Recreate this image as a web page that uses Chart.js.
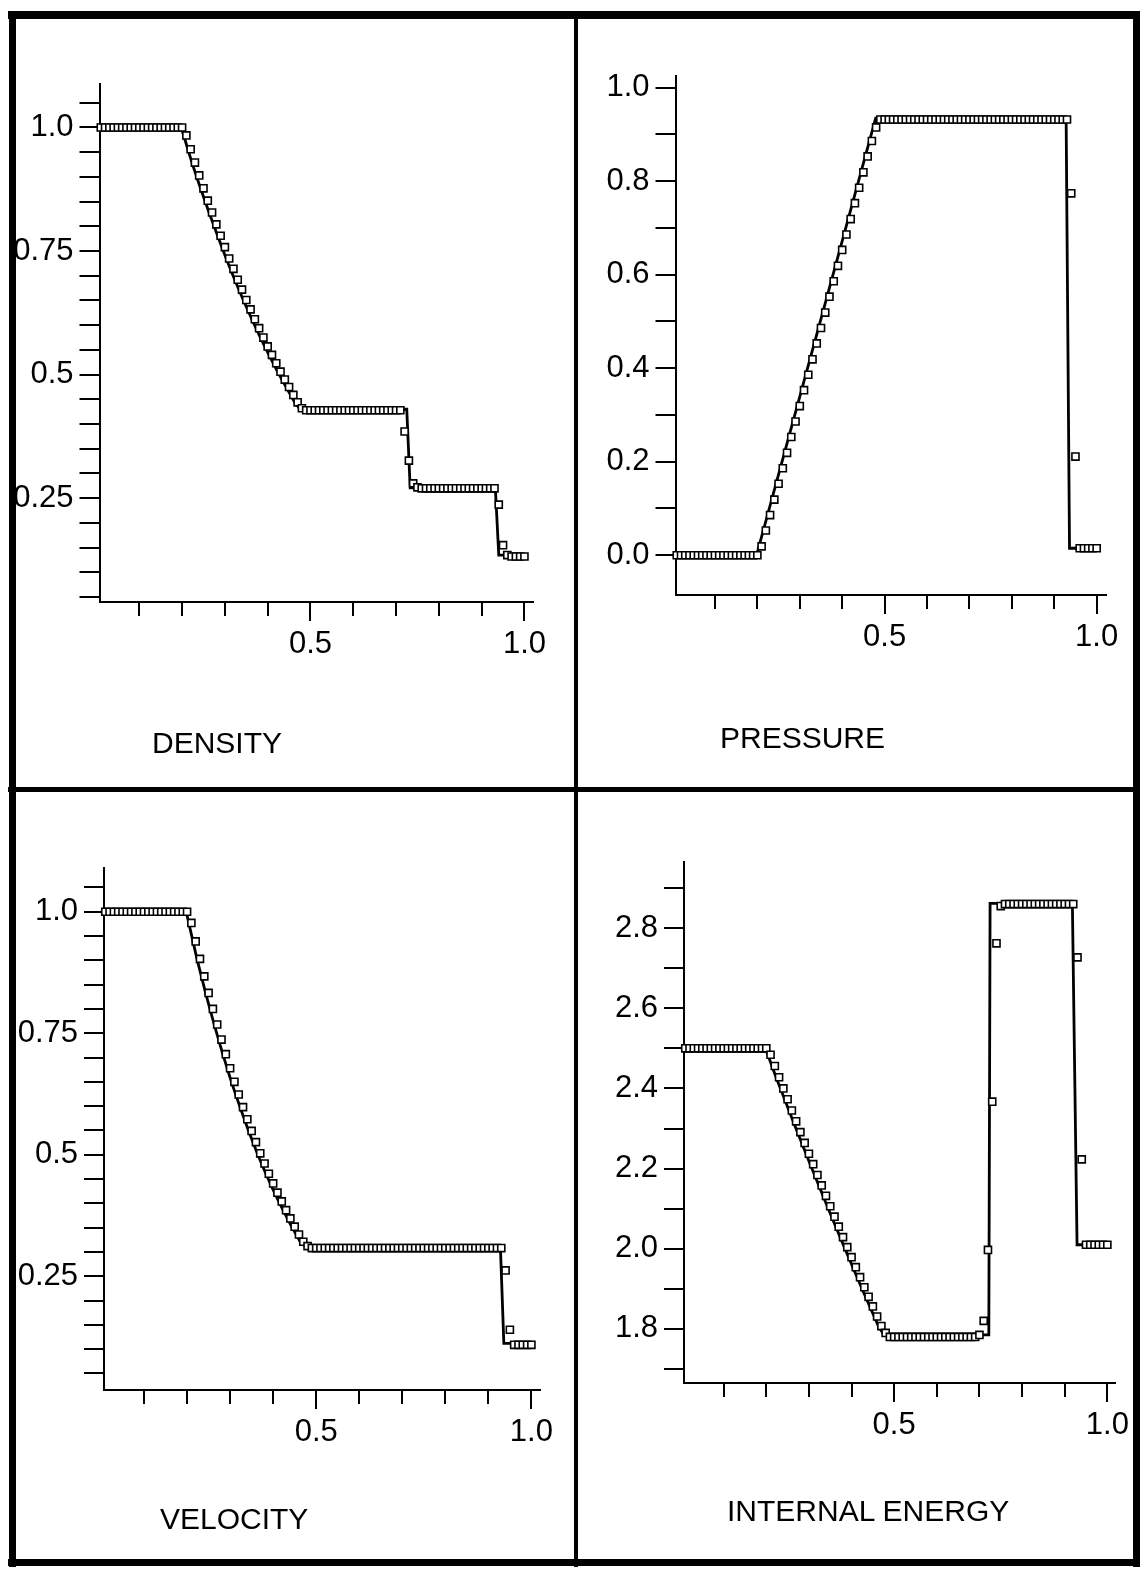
<!DOCTYPE html>
<html>
<head>
<meta charset="utf-8">
<script src="https://cdn.jsdelivr.net/npm/chart.js@4.4.1/dist/chart.umd.min.js"></script>
<style>
  html, body { margin: 0; padding: 0; background: #fff; }
  body { width: 1141px; height: 1571px; position: relative; overflow: hidden; font-family: "Liberation Sans", Arial, sans-serif; }
  canvas { position: absolute; }
  .rule { position: absolute; background: #000; z-index: 5; }
  .title { position: absolute; font-size: 30px; line-height: 30px; color: #000; white-space: nowrap; z-index: 4; }
</style>
</head>
<body>
<canvas id="density" width="575" height="787" style="left:0px;top:0px"></canvas>
<canvas id="pressure" width="566" height="787" style="left:575px;top:0px"></canvas>
<canvas id="velocity" width="575" height="784" style="left:0px;top:787px"></canvas>
<canvas id="energy" width="566" height="784" style="left:575px;top:787px"></canvas>

<div class="rule" style="left:8px;top:11px;width:1132px;height:8px"></div>
<div class="rule" style="left:9px;top:11px;width:7px;height:1556px"></div>
<div class="rule" style="left:1133px;top:11px;width:7px;height:1556px"></div>
<div class="rule" style="left:8px;top:1559px;width:1132px;height:7px"></div>
<div class="rule" style="left:8px;top:787px;width:1132px;height:5px"></div>
<div class="rule" style="left:574px;top:11px;width:4px;height:1556px"></div>

<div class="title" style="left:152px;top:728px">DENSITY</div>
<div class="title" style="left:720px;top:723px">PRESSURE</div>
<div class="title" style="left:160px;top:1504px">VELOCITY</div>
<div class="title" style="left:727px;top:1496px">INTERNAL ENERGY</div>

<script>
// cell positions of the numerical solution (squares)
const gridX = [
  0.01, 0.02, 0.03, 0.04, 0.05, 0.06, 0.07, 0.08, 0.09, 0.10,
  0.11, 0.12, 0.13, 0.14, 0.15, 0.16, 0.17, 0.18, 0.19, 0.20,
  0.21, 0.22, 0.23, 0.24, 0.25, 0.26, 0.27, 0.28, 0.29, 0.30,
  0.31, 0.32, 0.33, 0.34, 0.35, 0.36, 0.37, 0.38, 0.39, 0.40,
  0.41, 0.42, 0.43, 0.44, 0.45, 0.46, 0.47, 0.48, 0.49, 0.50,
  0.51, 0.52, 0.53, 0.54, 0.55, 0.56, 0.57, 0.58, 0.59, 0.60,
  0.61, 0.62, 0.63, 0.64, 0.65, 0.66, 0.67, 0.68, 0.69, 0.70,
  0.71, 0.72, 0.73, 0.74, 0.75, 0.76, 0.77, 0.78, 0.79, 0.80,
  0.81, 0.82, 0.83, 0.84, 0.85, 0.86, 0.87, 0.88, 0.89, 0.90,
  0.91, 0.92, 0.93, 0.94, 0.95, 0.96, 0.97, 0.98, 0.99, 1.00
];

// DENSITY
const densitySquares = [
  1, 1, 1, 1, 1, 1, 1, 1, 1, 1,
  1, 1, 1, 1, 1, 1, 1, 1, 1, 1,
  0.984, 0.956, 0.929, 0.903, 0.877, 0.852, 0.828, 0.804, 0.781, 0.758,
  0.735, 0.714, 0.692, 0.672, 0.651, 0.632, 0.612, 0.594, 0.575, 0.557,
  0.540, 0.523, 0.506, 0.490, 0.475, 0.459, 0.444, 0.432, 0.428, 0.428,
  0.428, 0.428, 0.428, 0.428, 0.428, 0.428, 0.428, 0.428, 0.428, 0.428,
  0.428, 0.428, 0.428, 0.428, 0.428, 0.428, 0.428, 0.428, 0.428, 0.428,
  0.428, 0.385, 0.326, 0.280, 0.272, 0.270, 0.270, 0.270, 0.270, 0.270,
  0.270, 0.270, 0.270, 0.270, 0.270, 0.270, 0.270, 0.270, 0.270, 0.270,
  0.270, 0.270, 0.270, 0.237, 0.155, 0.135, 0.132, 0.132, 0.132, 0.132
];
const densityLineX = [0.01, 0.198, 0.223, 0.243, 0.263, 0.283, 0.303, 0.323, 0.343, 0.363, 0.383, 0.403, 0.423, 0.443, 0.463, 0.476, 0.725, 0.733, 0.932, 0.94, 1.0];
const densityLineY = [1.0, 1.0, 0.929, 0.877, 0.828, 0.781, 0.735, 0.692, 0.651, 0.612, 0.575, 0.540, 0.506, 0.475, 0.444, 0.430, 0.430, 0.271, 0.271, 0.135, 0.135];
const densityTicks = [0.05, 0.1, 0.15, 0.2, 0.25, 0.3, 0.35, 0.4, 0.45, 0.5, 0.55, 0.6, 0.65, 0.7, 0.75, 0.8, 0.85, 0.9, 0.95, 1.0, 1.05];
const densityLabelValues = [0.25, 0.5, 0.75, 1.0];
const densityLabels = ['0.25', '0.5', '0.75', '1.0'];

// PRESSURE
const pressureSquares = [
  0, 0, 0, 0, 0, 0, 0, 0, 0, 0,
  0, 0, 0, 0, 0, 0, 0, 0, 0, 0,
  0.019, 0.053, 0.086, 0.119, 0.153, 0.186, 0.219, 0.253, 0.286, 0.319,
  0.353, 0.386, 0.419, 0.453, 0.486, 0.519, 0.553, 0.586, 0.619, 0.653,
  0.686, 0.719, 0.753, 0.786, 0.819, 0.853, 0.886, 0.915, 0.932, 0.932,
  0.932, 0.932, 0.932, 0.932, 0.932, 0.932, 0.932, 0.932, 0.932, 0.932,
  0.932, 0.932, 0.932, 0.932, 0.932, 0.932, 0.932, 0.932, 0.932, 0.932,
  0.932, 0.932, 0.932, 0.932, 0.932, 0.932, 0.932, 0.932, 0.932, 0.932,
  0.932, 0.932, 0.932, 0.932, 0.932, 0.932, 0.932, 0.932, 0.932, 0.932,
  0.932, 0.932, 0.932, 0.774, 0.211, 0.015, 0.015, 0.015, 0.015, 0.015
];
const pressureLineX = [0.01, 0.198, 0.479, 0.928, 0.936, 1.0];
const pressureLineY = [0.0, 0.0, 0.935, 0.935, 0.015, 0.015];
const pressureTicks = [0.0, 0.1, 0.2, 0.3, 0.4, 0.5, 0.6, 0.7, 0.8, 0.9, 1.0];
const pressureLabelValues = [0.0, 0.2, 0.4, 0.6, 0.8, 1.0];
const pressureLabels = ['0.0', '0.2', '0.4', '0.6', '0.8', '1.0'];

// VELOCITY
const velocitySquares = [
  1, 1, 1, 1, 1, 1, 1, 1, 1, 1,
  1, 1, 1, 1, 1, 1, 1, 1, 1, 1,
  0.977, 0.939, 0.903, 0.867, 0.833, 0.800, 0.768, 0.737, 0.707, 0.678,
  0.650, 0.624, 0.598, 0.573, 0.549, 0.526, 0.503, 0.482, 0.461, 0.441,
  0.422, 0.404, 0.386, 0.369, 0.352, 0.336, 0.321, 0.312, 0.308, 0.308,
  0.308, 0.308, 0.308, 0.308, 0.308, 0.308, 0.308, 0.308, 0.308, 0.308,
  0.308, 0.308, 0.308, 0.308, 0.308, 0.308, 0.308, 0.308, 0.308, 0.308,
  0.308, 0.308, 0.308, 0.308, 0.308, 0.308, 0.308, 0.308, 0.308, 0.308,
  0.308, 0.308, 0.308, 0.308, 0.308, 0.308, 0.308, 0.308, 0.308, 0.308,
  0.308, 0.308, 0.308, 0.262, 0.140, 0.109, 0.109, 0.109, 0.109, 0.109
];
const velocityLineX = [0.01, 0.198, 0.223, 0.243, 0.263, 0.283, 0.303, 0.323, 0.343, 0.363, 0.383, 0.403, 0.423, 0.443, 0.463, 0.476, 0.928, 0.936, 1.0];
const velocityLineY = [1.0, 1.0, 0.903, 0.833, 0.768, 0.707, 0.650, 0.598, 0.549, 0.503, 0.461, 0.422, 0.386, 0.352, 0.321, 0.311, 0.311, 0.112, 0.112];
const velocityTicks = densityTicks;
const velocityLabelValues = [0.25, 0.5, 0.75, 1.0];
const velocityLabels = ['0.25', '0.5', '0.75', '1.0'];

// INTERNAL ENERGY
const energySquares = [
  2.5, 2.5, 2.5, 2.5, 2.5, 2.5, 2.5, 2.5, 2.5, 2.5,
  2.5, 2.5, 2.5, 2.5, 2.5, 2.5, 2.5, 2.5, 2.5, 2.5,
  2.484, 2.456, 2.428, 2.400, 2.373, 2.345, 2.318, 2.291, 2.264, 2.237,
  2.211, 2.184, 2.158, 2.132, 2.106, 2.080, 2.055, 2.029, 2.004, 1.979,
  1.954, 1.929, 1.904, 1.880, 1.856, 1.831, 1.807, 1.790, 1.780, 1.780,
  1.780, 1.780, 1.780, 1.780, 1.780, 1.780, 1.780, 1.780, 1.780, 1.780,
  1.780, 1.780, 1.780, 1.780, 1.780, 1.780, 1.780, 1.780, 1.780, 1.785,
  1.820, 1.997, 2.367, 2.762, 2.855, 2.860, 2.860, 2.860, 2.860, 2.860,
  2.860, 2.860, 2.860, 2.860, 2.860, 2.860, 2.860, 2.860, 2.860, 2.860,
  2.860, 2.860, 2.727, 2.223, 2.010, 2.010, 2.010, 2.010, 2.010, 2.010
];
const energyLineX = [0.01, 0.198, 0.223, 0.263, 0.303, 0.343, 0.383, 0.423, 0.463, 0.476, 0.722, 0.725, 0.918, 0.929, 1.0];
const energyLineY = [2.5, 2.5, 2.428, 2.318, 2.211, 2.106, 2.004, 1.904, 1.807, 1.785, 1.785, 2.862, 2.862, 2.010, 2.010];
const energyTicks = [1.7, 1.8, 1.9, 2.0, 2.1, 2.2, 2.3, 2.4, 2.5, 2.6, 2.7, 2.8, 2.9];
const energyLabelValues = [1.8, 2.0, 2.2, 2.4, 2.6, 2.8];
const energyLabels = ['1.8', '2.0', '2.2', '2.4', '2.6', '2.8'];

// x axis (same in all four panels)
const xTicks = [0.1, 0.2, 0.3, 0.4, 0.5, 0.6, 0.7, 0.8, 0.9, 1.0];
const xLabelValues = [0.5, 1.0];
const xLabels = ['0.5', '1.0'];

Chart.defaults.font.family = '"Liberation Sans", Arial, sans-serif';
Chart.defaults.color = '#000';

function toPoints(xs, ys) {
  return xs.map((x, i) => ({ x: x, y: ys[i] }));
}

function labelFor(v, values, labels) {
  const i = values.findIndex(a => Math.abs(a - v) < 1e-6);
  return i >= 0 ? labels[i] : '';
}

// longer tick marks under the labelled x values
const majorTicks = {
  id: 'majorTicks',
  afterDraw(chart) {
    const xs = chart.scales.x;
    const ctx = chart.ctx;
    const b = chart.chartArea.bottom;
    ctx.save();
    ctx.strokeStyle = '#000';
    ctx.lineWidth = 2;
    xLabelValues.forEach(v => {
      const px = Math.round(xs.getPixelForValue(v));
      ctx.beginPath();
      ctx.moveTo(px, b);
      ctx.lineTo(px, b + 19);
      ctx.stroke();
    });
    ctx.restore();
  }
};

function makePanel(id, p) {
  new Chart(document.getElementById(id), {
    type: 'scatter',
    data: {
      datasets: [
        {
          data: toPoints(gridX, p.squares),
          showLine: false,
          pointStyle: 'rect',
          pointRadius: 5,
          pointBorderWidth: 1.6,
          pointBorderColor: '#000',
          pointBackgroundColor: '#fff',
          clip: false,
          order: 0
        },
        {
          data: toPoints(p.lineX, p.lineY),
          showLine: true,
          borderColor: '#000',
          borderWidth: 2.8,
          pointRadius: 0,
          tension: 0,
          clip: false,
          order: 1
        }
      ]
    },
    options: {
      responsive: false,
      animation: false,
      devicePixelRatio: 1,
      layout: { padding: { left: 0, top: p.padTop, right: p.padRight, bottom: 0 } },
      plugins: { legend: { display: false }, tooltip: { enabled: false } },
      scales: {
        x: {
          type: 'linear',
          min: 0.007,
          max: p.xMax,
          border: { display: true, color: '#000', width: 2 },
          grid: { display: true, drawOnChartArea: false, drawTicks: true, tickLength: 14, tickWidth: 2, tickColor: '#000', lineWidth: 2, color: '#000' },
          ticks: { autoSkip: false, maxRotation: 0, minRotation: 0, padding: 10, color: '#000', font: { size: 31 },
                   callback: v => labelFor(v, xLabelValues, xLabels) },
          afterBuildTicks: s => { s.ticks = xTicks.map(v => ({ value: v })); },
          afterFit: s => { s.height = p.xAxisHeight; }
        },
        y: {
          type: 'linear',
          position: 'left',
          min: p.yMin,
          max: p.yMax,
          border: { display: true, color: '#000', width: 2 },
          grid: { display: true, drawOnChartArea: false, drawTicks: true, tickLength: 20, tickWidth: 2, tickColor: '#000', lineWidth: 2, color: '#000' },
          ticks: { autoSkip: false, padding: 6, color: '#000', font: { size: 31 },
                   callback: v => labelFor(v, p.labelValues, p.labels) },
          afterBuildTicks: s => { s.ticks = p.ticks.map(v => ({ value: v })); },
          afterFit: s => { s.width = p.yAxisWidth; }
        }
      }
    },
    plugins: [majorTicks]
  });
}

makePanel('density', {
  squares: densitySquares, lineX: densityLineX, lineY: densityLineY,
  ticks: densityTicks, labelValues: densityLabelValues, labels: densityLabels,
  yMin: 0.04, yMax: 1.088, xMax: 1.02,
  yAxisWidth: 99.5, xAxisHeight: 185, padTop: 84, padRight: 42
});
makePanel('pressure', {
  squares: pressureSquares, lineX: pressureLineX, lineY: pressureLineY,
  ticks: pressureTicks, labelValues: pressureLabelValues, labels: pressureLabels,
  yMin: -0.085, yMax: 1.025, xMax: 1.022,
  yAxisWidth: 100.5, xAxisHeight: 192, padTop: 76, padRight: 35
});
makePanel('velocity', {
  squares: velocitySquares, lineX: velocityLineX, lineY: velocityLineY,
  ticks: velocityTicks, labelValues: velocityLabelValues, labels: velocityLabels,
  yMin: 0.016, yMax: 1.09, xMax: 1.02,
  yAxisWidth: 104, xAxisHeight: 181, padTop: 81, padRight: 35
});
makePanel('energy', {
  squares: energySquares, lineX: energyLineX, lineY: energyLineY,
  ticks: energyTicks, labelValues: energyLabelValues, labels: energyLabels,
  yMin: 1.665, yMax: 2.965, xMax: 1.018,
  yAxisWidth: 109, xAxisHeight: 188, padTop: 75, padRight: 26
});
</script>
</body>
</html>
